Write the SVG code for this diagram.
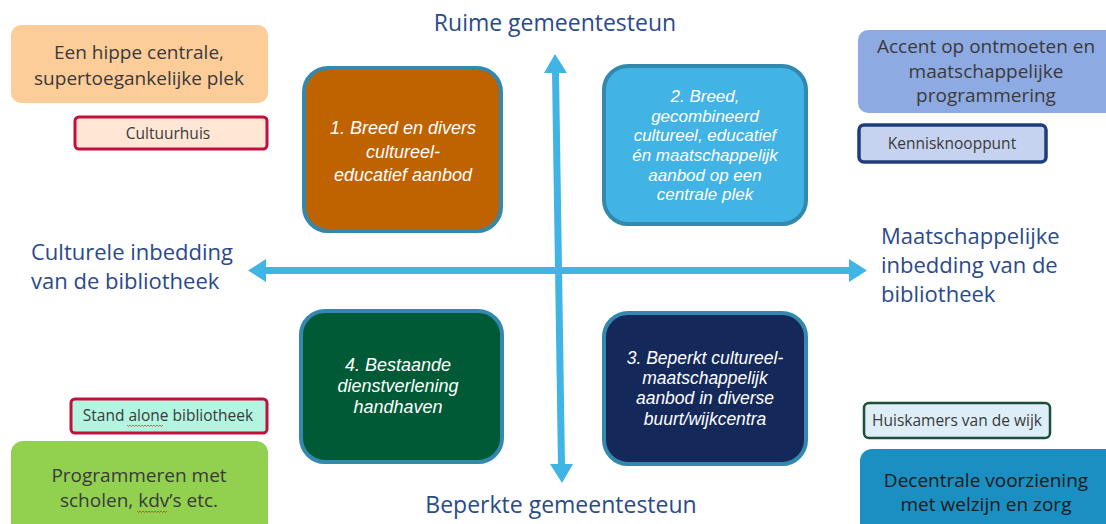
<svg xmlns="http://www.w3.org/2000/svg" width="1106" height="524" viewBox="0 0 1106 524">
<style>
  .t { font-family: "Open Sans", "Noto Sans", sans-serif; text-anchor: middle; }
  .big { font-size: 19px; fill: #3a3a3a; }
  .small { font-size: 15.5px; fill: #3a3a3a; }
  .axis { font-family: "Open Sans", "Noto Sans", sans-serif; font-size: 22px; fill: #2a4a8a; }
  .axisv { font-size: 23px; }
  .q { font-family: "Liberation Sans", Arial, sans-serif; font-style: italic; font-size: 18px; fill: #ffffff; text-anchor: middle; }
  .q2 { font-size: 17px; }
  .q3 { font-size: 17.5px; }
  .qbox { stroke: #3388ae; stroke-width: 4; }
  .spell { fill: none; stroke: #e03030; stroke-width: 0.8; }
</style>
<rect width="1106" height="524" fill="#ffffff"/>

<g id="connectors" fill="#41b4e6" stroke="#41b4e6">
  <line x1="265" y1="270.5" x2="850" y2="270.5" stroke-width="7"/>
  <polygon points="248,270.5 266,259 266,282" stroke="none"/>
  <polygon points="867,270.5 849,259 849,282" stroke="none"/>
  <line x1="555.5" y1="72" x2="561.5" y2="465" stroke-width="7"/>
  <polygon points="555,54 544,73 567,73" stroke="none"/>
  <polygon points="562,483 550,464 573,464" stroke="none"/>
</g>

<g id="label-top"><text class="axis axisv" x="555" y="31" text-anchor="middle">Ruime gemeentesteun</text></g>
<g id="label-bottom"><text class="axis axisv" x="561" y="513" text-anchor="middle">Beperkte gemeentesteun</text></g>
<g id="label-left"><text class="axis" x="31" y="260">Culturele inbedding</text><text class="axis" x="31" y="289">van de bibliotheek</text></g>
<g id="label-right"><text class="axis" x="881" y="244">Maatschappelijke</text><text class="axis" x="881" y="273">inbedding van de</text><text class="axis" x="881" y="302">bibliotheek</text></g>

<g id="q1">
  <rect class="qbox" x="304" y="68" width="197" height="163" rx="24" fill="#bf6200"/>
  <text class="q" x="403" y="134">1. Breed en divers</text>
  <text class="q" x="403" y="158">cultureel-</text>
  <text class="q" x="403" y="181">educatief aanbod</text>
</g>
<g id="q2">
  <rect class="qbox" x="604" y="66" width="202" height="158" rx="24" fill="#41b3e4"/>
  <text class="q q2" x="705" y="102">2. Breed,</text>
  <text class="q q2" x="705" y="122">gecombineerd</text>
  <text class="q q2" x="705" y="141">cultureel, educatief</text>
  <text class="q q2" x="705" y="161">én maatschappelijk</text>
  <text class="q q2" x="705" y="181">aanbod op een</text>
  <text class="q q2" x="705" y="200">centrale plek</text>
</g>
<g id="q4">
  <rect class="qbox" x="301" y="311" width="201" height="151" rx="24" fill="#005a35"/>
  <text class="q" x="398" y="371">4. Bestaande</text>
  <text class="q" x="398" y="392">dienstverlening</text>
  <text class="q" x="398" y="413">handhaven</text>
</g>
<g id="q3">
  <rect class="qbox" x="604" y="313" width="202" height="151" rx="24" fill="#14295a"/>
  <text class="q q3" x="705" y="364">3. Beperkt cultureel-</text>
  <text class="q q3" x="705" y="384">maatschappelijk</text>
  <text class="q q3" x="705" y="404">aanbod in diverse</text>
  <text class="q q3" x="705" y="425">buurt/wijkcentra</text>
</g>

<g id="n-hippe">
  <rect x="11" y="25" width="257" height="78" rx="10" fill="#fdcd99"/>
  <text class="t big" x="139" y="59">Een hippe centrale,</text>
  <text class="t big" x="139" y="85">supertoegankelijke plek</text>
</g>
<g id="n-cultuurhuis">
  <rect x="75" y="117" width="192" height="32" rx="4" fill="#ffe6d5" stroke="#c0103b" stroke-width="3"/>
  <text class="t small" x="168" y="139">Cultuurhuis</text>
</g>
<g id="n-accent">
  <rect x="858" y="30" width="260" height="83" rx="10" fill="#8eaae3"/>
  <text class="t big" x="986" y="53">Accent op ontmoeten en</text>
  <text class="t big" x="986" y="78">maatschappelijke</text>
  <text class="t big" x="986" y="102">programmering</text>
</g>
<g id="n-kennis">
  <rect x="859" y="125" width="187" height="37" rx="5" fill="#c5d3f0" stroke="#1f3d7a" stroke-width="3.5"/>
  <text class="t small" x="952" y="149">Kennisknooppunt</text>
</g>
<g id="n-standalone">
  <rect x="71" y="399" width="196" height="34" rx="4" fill="#b3f5e0" stroke="#c0103b" stroke-width="3"/>
  <text class="t small" x="168" y="421">Stand alone bibliotheek</text>
  <path class="spell" d="M127,425 l1.5,1.5 l1.5,-1.5 l1.5,1.5 l1.5,-1.5 l1.5,1.5 l1.5,-1.5 l1.5,1.5 l1.5,-1.5 l1.5,1.5 l1.5,-1.5 l1.5,1.5 l1.5,-1.5 l1.5,1.5 l1.5,-1.5 l1.5,1.5 l1.5,-1.5 l1.5,1.5 l1.5,-1.5 l1.5,1.5 l1.5,-1.5 l1.5,1.5 l1.5,-1.5 l1.5,1.5 l1.5,-1.5"/>
</g>
<g id="n-programmeren">
  <rect x="11" y="441" width="257" height="100" rx="12" fill="#92d050"/>
  <text class="t big" x="139" y="482">Programmeren met</text>
  <text class="t big" x="139" y="507">scholen, kdv’s etc.</text>
  <path class="spell" d="M137,511 l1.5,1.5 l1.5,-1.5 l1.5,1.5 l1.5,-1.5 l1.5,1.5 l1.5,-1.5 l1.5,1.5 l1.5,-1.5 l1.5,1.5 l1.5,-1.5 l1.5,1.5 l1.5,-1.5 l1.5,1.5 l1.5,-1.5 l1.5,1.5 l1.5,-1.5 l1.5,1.5 l1.5,-1.5 l1.5,1.5 l1.5,-1.5"/>
</g>
<g id="n-huiskamers">
  <rect x="864" y="403" width="186" height="35" rx="5" fill="#ddeef8" stroke="#1e4d3a" stroke-width="2.5"/>
  <text class="t small" x="957" y="426">Huiskamers van de wijk</text>
</g>
<g id="n-decentrale">
  <rect x="860" y="449" width="260" height="90" rx="12" fill="#1b8fc2"/>
  <text class="t big" x="986" y="487" style="fill:#1a1a1a">Decentrale voorziening</text>
  <text class="t big" x="986" y="511" style="fill:#1a1a1a">met welzijn en zorg</text>
</g>
</svg>
